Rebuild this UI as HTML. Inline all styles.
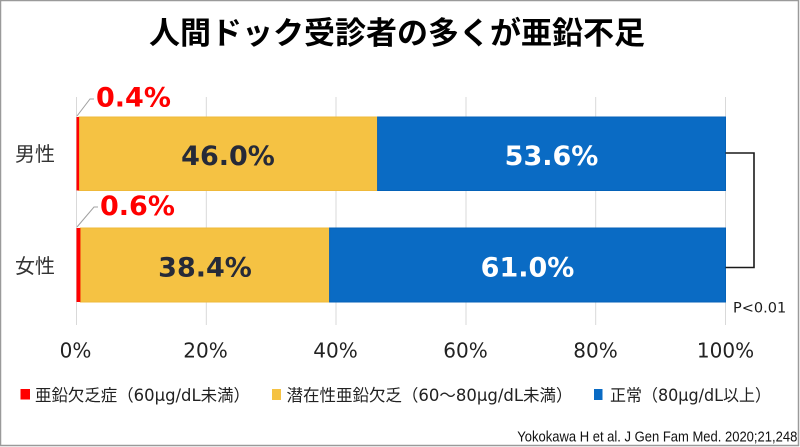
<!DOCTYPE html>
<html>
<head>
<meta charset="utf-8">
<style>
html,body{margin:0;padding:0;background:#fff;}
body{width:800px;height:447px;overflow:hidden;}
svg{display:block;}
</style>
</head>
<body>
<svg width="800" height="447" viewBox="0 0 800 447" xmlns="http://www.w3.org/2000/svg">
  <rect x="0" y="0" width="800" height="447" fill="#fff"/>
  <rect x="0.5" y="0.5" width="798" height="445" fill="none" stroke="#9a9a9a" stroke-width="1.5"/>

  <!-- Title -->
  <text x="397" y="44" text-anchor="middle" font-family="'Liberation Sans','Noto Sans CJK JP',sans-serif" font-weight="bold" font-size="31" fill="#000">人間ドック受診者の多くが亜鉛不足</text>

  <!-- gridlines -->
  <g stroke="#d9d9d9" stroke-width="1">
    <line x1="76.5" y1="97" x2="76.5" y2="325"/>
    <line x1="206.3" y1="97" x2="206.3" y2="325"/>
    <line x1="336" y1="97" x2="336" y2="325"/>
    <line x1="466" y1="97" x2="466" y2="325"/>
    <line x1="595.7" y1="97" x2="595.7" y2="325"/>
    <line x1="725.5" y1="97" x2="725.5" y2="325"/>
  </g>

  <!-- Male bar -->
  <rect x="79" y="117" width="298.6" height="73.5" fill="#f5c243" stroke="#efb93a" stroke-width="1"/>
  <rect x="377.6" y="117" width="347.9" height="73.5" fill="#0a6bc4" stroke="#0562b8" stroke-width="1"/>
  <rect x="76.5" y="117" width="2.6" height="73.5" fill="#ff0000"/>

  <!-- Female bar -->
  <rect x="80.4" y="228" width="249.2" height="74" fill="#f5c243" stroke="#efb93a" stroke-width="1"/>
  <rect x="329.6" y="228" width="395.9" height="74" fill="#0a6bc4" stroke="#0562b8" stroke-width="1"/>
  <rect x="76.5" y="228" width="3.9" height="74" fill="#ff0000"/>

  <!-- leader lines -->
  <polyline points="77,116 90,99 94,99" fill="none" stroke="#a0a0a0" stroke-width="1"/>
  <polyline points="77,227 94,207 98,207" fill="none" stroke="#a0a0a0" stroke-width="1"/>

  <!-- red labels -->
  <text x="96" y="106.5" font-family="'DejaVu Sans',sans-serif" font-weight="bold" font-size="27" fill="#ff0000">0.4%</text>
  <text x="100" y="215" font-family="'DejaVu Sans',sans-serif" font-weight="bold" font-size="27" fill="#ff0000">0.6%</text>

  <!-- bar value labels -->
  <g font-family="'DejaVu Sans',sans-serif" font-weight="bold" font-size="27" text-anchor="middle">
    <text x="228" y="165" fill="#262a38">46.0%</text>
    <text x="551.5" y="165" fill="#ffffff">53.6%</text>
    <text x="205" y="276.5" fill="#262a38">38.4%</text>
    <text x="527.5" y="276.5" fill="#ffffff">61.0%</text>
  </g>

  <!-- category labels -->
  <g font-family="'Liberation Sans','Noto Sans CJK JP',sans-serif" font-size="20" fill="#333">
    <text x="15" y="161">男性</text>
    <text x="15" y="273">女性</text>
  </g>

  <!-- bracket -->
  <polyline points="725.5,153 754,153 754,267.5 725.5,267.5" fill="none" stroke="#1a1a1a" stroke-width="1.6"/>
  <text x="733" y="312.7" font-family="'DejaVu Sans',sans-serif" font-size="14.5" fill="#1a1a1a">P&lt;0.01</text>

  <!-- x tick labels -->
  <g font-family="'DejaVu Sans',sans-serif" font-size="20" fill="#222" text-anchor="middle">
    <text x="75.5" y="357.3">0%</text>
    <text x="205.5" y="357.3">20%</text>
    <text x="335.5" y="357.3">40%</text>
    <text x="465.5" y="357.3">60%</text>
    <text x="595.5" y="357.3">80%</text>
    <text x="725.5" y="357.3">100%</text>
  </g>

  <!-- legend -->
  <rect x="20.5" y="389" width="9.5" height="10.5" fill="#ff0000"/>
  <rect x="272" y="389" width="9" height="11" fill="#f5c243"/>
  <rect x="594" y="389" width="8.5" height="11" fill="#0a6bc4"/>
  <g font-family="'DejaVu Sans','Noto Sans CJK JP',sans-serif" font-size="16.5" fill="#222">
    <text x="35" y="401" textLength="215" lengthAdjust="spacingAndGlyphs">亜鉛欠乏症（60µg/dL未満）</text>
    <text x="286.5" y="401" textLength="286" lengthAdjust="spacingAndGlyphs">潜在性亜鉛欠乏（60〜80µg/dL未満）</text>
    <text x="610" y="401" textLength="161" lengthAdjust="spacingAndGlyphs">正常（80µg/dL以上）</text>
  </g>

  <!-- citation -->
  <text x="517.3" y="441.5" font-family="'Liberation Sans',sans-serif" font-size="14.5" fill="#111" textLength="280" lengthAdjust="spacingAndGlyphs">Yokokawa H et al. J Gen Fam Med. 2020;21,248</text>
</svg>
</body>
</html>
